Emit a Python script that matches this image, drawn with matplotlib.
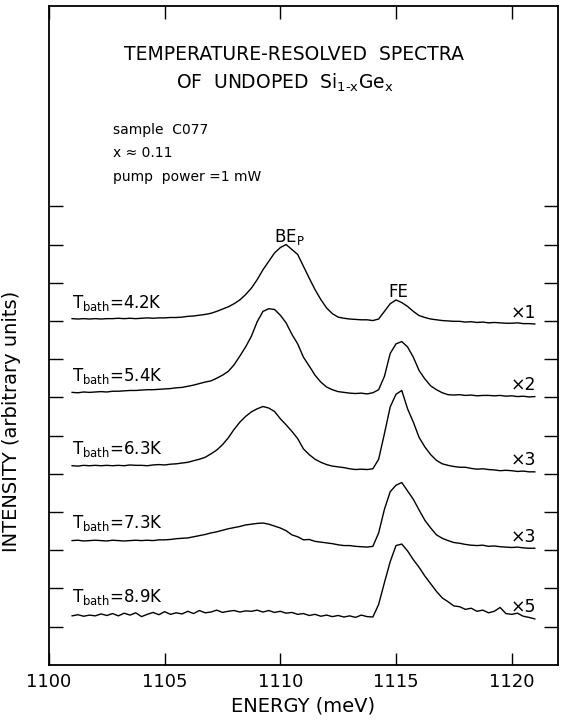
import numpy as np
import matplotlib
matplotlib.use("Agg")
import matplotlib.pyplot as plt


# energia (meV), rejilla de 0.25 meV de 1101 a 1121
energia = np.arange(1101.0, 1121.001, 0.25)

# intensidades (unidades arbitrarias, sobre la linea base)
espectro_42 = [
    0.06, 0.05, 0.06, 0.05,
    0.06, 0.05, 0.06, 0.06,
    0.07, 0.06, 0.07, 0.06,
    0.07, 0.08, 0.07, 0.08,
    0.08, 0.09, 0.09, 0.10,
    0.12, 0.13, 0.15, 0.17,
    0.20, 0.25, 0.31, 0.37,
    0.45, 0.55, 0.69, 0.86,
    1.08, 1.34, 1.56, 1.78,
    1.92, 2.00, 1.87, 1.74,
    1.43, 1.12, 0.82, 0.56,
    0.34, 0.19, 0.10, 0.07,
    0.05, 0.04, 0.03, 0.03,
    0.01, 0.05, 0.25, 0.45,
    0.55, 0.48, 0.38, 0.25,
    0.14, 0.09, 0.05, 0.03,
    0.01, 0.00, -0.01, -0.01,
    -0.03, -0.02, -0.04, -0.03,
    -0.05, -0.04, -0.05, -0.06,
    -0.06, -0.05, -0.07, -0.07,
    -0.08
]

espectro_54 = [
    0.03, 0.02, 0.04, 0.03,
    0.04, 0.05, 0.04, 0.06,
    0.06, 0.07, 0.08, 0.08,
    0.09, 0.10, 0.10, 0.11,
    0.12, 0.13, 0.15, 0.16,
    0.19, 0.22, 0.26, 0.30,
    0.33, 0.40, 0.48, 0.58,
    0.75, 0.98, 1.22, 1.50,
    1.88, 2.15, 2.22, 2.20,
    2.05, 1.85, 1.55, 1.30,
    0.95, 0.72, 0.48, 0.30,
    0.17, 0.10, 0.05, 0.03,
    0.01, 0.00, 0.01, -0.01,
    0.02, 0.10, 0.45, 1.05,
    1.30, 1.36, 1.22, 0.95,
    0.60, 0.38, 0.20, 0.10,
    0.02, -0.03, -0.04, -0.03,
    -0.05, -0.04, -0.06, -0.05,
    -0.05, -0.06, -0.05, -0.07,
    -0.06, -0.08, -0.07, -0.09,
    -0.08
]

espectro_63 = [
    0.01, 0.00, 0.02, 0.01,
    0.02, 0.01, 0.02, 0.01,
    0.02, 0.01, 0.03, 0.02,
    0.02, 0.01, 0.03, 0.04,
    0.03, 0.05, 0.06, 0.08,
    0.10, 0.14, 0.18, 0.23,
    0.32, 0.42, 0.56, 0.74,
    0.96, 1.15, 1.30, 1.42,
    1.50, 1.56, 1.52, 1.43,
    1.24, 1.08, 0.91, 0.72,
    0.45, 0.30, 0.18, 0.10,
    0.04, 0.00, -0.02, -0.04,
    -0.07, -0.09, -0.08, -0.09,
    -0.07, 0.18, 0.85, 1.55,
    1.88, 1.98, 1.50, 1.15,
    0.75, 0.50, 0.30, 0.15,
    0.06, 0.02, -0.01, -0.03,
    -0.03, -0.06, -0.08, -0.07,
    -0.09, -0.10, -0.12, -0.11,
    -0.12, -0.14, -0.13, -0.15,
    -0.15
]

espectro_73 = [
    0.00, 0.01, -0.01, 0.00,
    0.01, 0.00, -0.01, 0.01,
    0.00, -0.01, 0.00, 0.01,
    0.00, 0.01, 0.00, 0.02,
    0.02, 0.03, 0.05, 0.06,
    0.07, 0.10, 0.13, 0.16,
    0.20, 0.23, 0.27, 0.31,
    0.34, 0.37, 0.41, 0.43,
    0.45, 0.46, 0.43, 0.38,
    0.33, 0.26, 0.15, 0.10,
    0.02, 0.03, -0.02, -0.04,
    -0.06, -0.08, -0.11, -0.13,
    -0.13, -0.15, -0.16, -0.17,
    -0.15, 0.20, 0.82, 1.28,
    1.45, 1.52, 1.30, 1.08,
    0.80, 0.53, 0.33, 0.15,
    0.06, 0.00, -0.05, -0.07,
    -0.10, -0.12, -0.13, -0.12,
    -0.15, -0.14, -0.16, -0.17,
    -0.18, -0.17, -0.19, -0.20,
    -0.20
]

espectro_89 = [
    -0.02, 0.01, -0.03, 0.00,
    -0.02, 0.03, -0.01, 0.04,
    -0.02, 0.05, 0.00, 0.06,
    -0.04, 0.02, 0.07, 0.01,
    0.09, 0.02, 0.06, 0.03,
    0.10, 0.04, 0.12, 0.06,
    0.08, 0.13, 0.07, 0.10,
    0.12, 0.08, 0.11, 0.10,
    0.13, 0.08, 0.12, 0.07,
    0.10, 0.05, 0.07, 0.02,
    0.04, -0.01, 0.02, -0.03,
    0.00, -0.04, -0.01, -0.05,
    -0.02, -0.06, 0.00, -0.04,
    -0.05, 0.28, 0.85, 1.40,
    1.82, 1.86, 1.68, 1.45,
    1.25, 1.02, 0.82, 0.62,
    0.45, 0.35, 0.24, 0.22,
    0.15, 0.18, 0.10, 0.13,
    0.06, 0.10, 0.20, 0.04,
    0.02, 0.05, -0.03, -0.06,
    -0.10
]

espectros = [espectro_42, espectro_54, espectro_63, espectro_73, espectro_89]
temperaturas = ["4.2K", "5.4K", "6.3K", "7.3K", "8.9K"]
factores = ["\u00d71", "\u00d72", "\u00d73", "\u00d73", "\u00d75"]

# desplazamiento vertical de cada traza
desplazamientos = [9.0, 7.1, 5.2, 3.25, 1.3]


fig = plt.figure(figsize=(5.63, 7.21), dpi=100)

ax = fig.add_axes([0.087, 0.078, 0.904, 0.914])

for espectro, base, temp, factor in zip(
    espectros,
    desplazamientos,
    temperaturas,
    factores
):

    valores = np.array(espectro) + base

    ax.plot(
        energia,
        valores,
        color="black",
        linewidth=1.0
    )

    ax.text(
        1101.0,
        base + 0.33,
        r"$\mathregular{T_{bath}}$=" + temp,
        fontsize=12,
        va="baseline",
        ha="left"
    )

    ax.text(
        1120.5,
        valores[-1] + 0.3,
        factor,
        fontsize=12.5,
        va="center",
        ha="center"
    )

ax.text(1110.4, 11.2, r"BE$_\mathregular{P}$", fontsize=12, ha="center", va="center")
ax.text(1115.1, 9.76, "FE", fontsize=12, ha="center", va="center")

ax.set_xlim(1100, 1122)
ax.set_ylim(0, 17.25)

ax.set_xticks([1100, 1105, 1110, 1115, 1120])
ax.set_yticks(np.arange(1, 13))
ax.set_yticklabels([])

ax.tick_params(
    axis="x",
    direction="in",
    top=True,
    length=9,
    width=1.0,
    labelsize=13,
    pad=6
)

ax.tick_params(
    axis="y",
    direction="in",
    right=True,
    length=10,
    width=1.0
)

for lado in ax.spines.values():
    lado.set_linewidth(1.3)

ax.set_xlabel("ENERGY (meV)", fontsize=14, labelpad=4)
ax.set_ylabel("INTENSITY (arbitrary units)", fontsize=14)
ax.yaxis.set_label_coords(-0.055, 0.37)

fig.text(0.522, 0.924, "TEMPERATURE-RESOLVED  SPECTRA", fontsize=13.5, ha="center", va="center")
fig.text(0.506, 0.885, "OF  UNDOPED  Si$_\\mathregular{1\u2010x}$Ge$_\\mathregular{x}$", fontsize=13.5, ha="center", va="center")

fig.text(0.2, 0.82, "sample  C077", fontsize=10, ha="left", va="center")
fig.text(0.2, 0.788, "x \u2248 0.11", fontsize=10, ha="left", va="center")
fig.text(0.2, 0.7545, "pump  power =1 mW", fontsize=10, ha="left", va="center")

fig.savefig("out.png", dpi=100)
plt.close(fig)
